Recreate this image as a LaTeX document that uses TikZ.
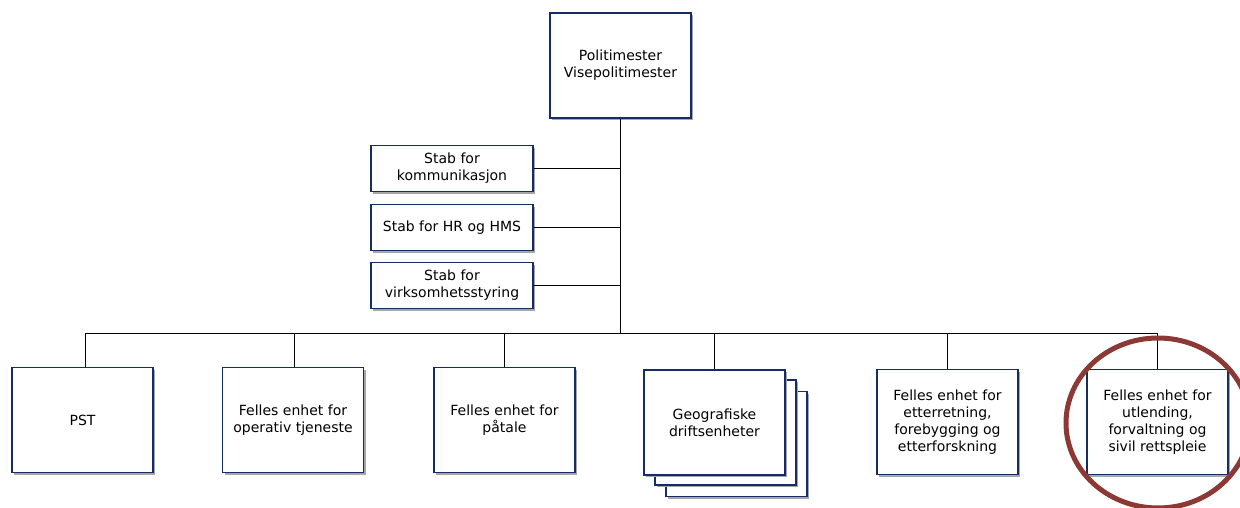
\documentclass[tikz,border=0pt]{standalone}
\usepackage{fontspec}
\setmainfont{DejaVu Sans}
\usetikzlibrary{shadows}
\definecolor{navy}{RGB}{22,44,105}
\definecolor{ring}{RGB}{140,56,52}
\begin{document}
\begin{tikzpicture}[x=1pt,y=-1pt,
  orgbox/.style={draw=navy, line width=1.6pt, fill=white, align=center,
    font=\fontsize{14}{17}\selectfont, inner sep=2pt,
    drop shadow={shadow xshift=2.2pt, shadow yshift=-2.2pt, fill=black!35, opacity=1}},
  bigbox/.style={orgbox, minimum width=141pt, minimum height=105pt},
  staffbox/.style={orgbox, minimum width=162pt, minimum height=46pt},
  conn/.style={draw=black, line width=1pt}]
\useasboundingbox (0,0) rectangle (1240,508);
\begin{scope}
\clip (0,0) rectangle (1240,508);
% top
\node[bigbox] (top) at (620.5,65.5) {Politimester\\Visepolitimester};
% staff
\node[staffbox] (s1) at (452,168.5) {Stab for\\kommunikasjon};
\node[staffbox] (s2) at (452,227.5) {Stab for HR og HMS};
\node[staffbox] (s3) at (452,285.5) {Stab for\\virksomhetsstyring};
\coordinate (bus) at (620.5,333.5);
\draw[conn] (top.south) -- (bus);
\draw[conn] (s1.east) -- (s1.east -| top.south);
\draw[conn] (s2.east) -- (s2.east -| top.south);
\draw[conn] (s3.east) -- (s3.east -| top.south);
% bottom units
\node[bigbox] (pst) at (82.5,420) {PST};
\node[bigbox] (op) at (293,420) {Felles enhet for\\operativ tjeneste};
\node[bigbox] (pat) at (504.5,420) {Felles enhet for\\påtale};
\node[bigbox] (g3) at (736.5,444) {};
\node[bigbox] (g2) at (725.5,432.5) {};
\node[bigbox] (geo) at (714.5,422.5) {Geografiske\\driftsenheter};
\node[bigbox] (ett) at (947.5,422) {Felles enhet for\\etterretning,\\forebygging og\\etterforskning};
\node[bigbox] (utl) at (1157.5,422) {Felles enhet for\\utlending,\\forvaltning og\\sivil rettspleie};
\draw[conn] ([xshift=2.5pt]pst.north) |- (bus);
\draw[conn] ([xshift=1.5pt]op.north) |- (bus);
\foreach \b in {pat,geo,ett,utl}
  \draw[conn] (\b.north) |- (bus);
% highlight ring
\draw[ring, line width=5pt] (1158,423) ellipse [x radius=92, y radius=85];
\end{scope}
\end{tikzpicture}
\end{document}
